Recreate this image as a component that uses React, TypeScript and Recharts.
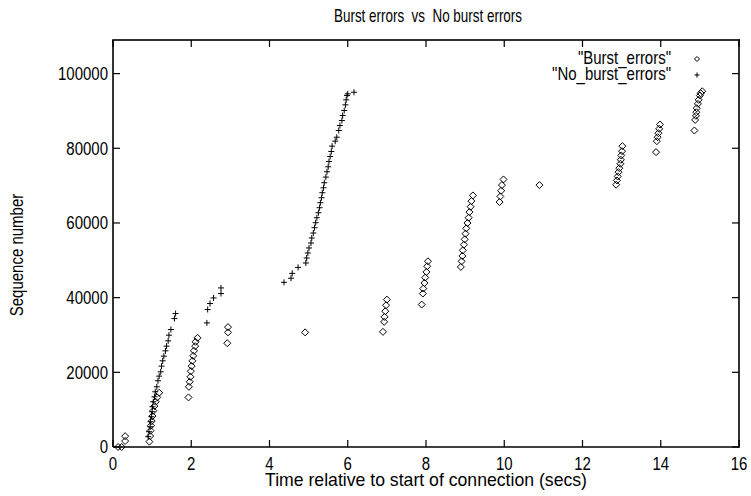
import { ScatterChart, Scatter, XAxis, YAxis } from "recharts";

// [time (secs), sequence number]
const burstErrors: [number, number][] = [
  [0.13, 0], [0.22, 0], [0.31, 1600], [0.31, 2900],
  [0.93, 1430], [0.95, 2940], [0.96, 4370], [0.97, 5700], [0.99, 6950], [1.01, 8290],
  [1.03, 9720], [1.06, 10960], [1.09, 12120], [1.13, 13280], [1.18, 14530],
  [1.93, 13280], [1.94, 16130], [1.96, 17470], [1.98, 18800], [1.99, 20320], [2.01, 21660],
  [2.03, 23080], [2.05, 24420], [2.07, 25760], [2.1, 27010], [2.11, 28160], [2.16, 29230],
  [2.92, 27800], [2.94, 30700], [2.94, 32100],
  [4.91, 30700],
  [6.9, 30840], [6.93, 33510], [6.94, 34850], [6.96, 36360], [6.98, 37970], [7.0, 39480],
  [7.89, 38150], [7.92, 41090], [7.93, 42430], [7.96, 43940], [7.98, 45370], [8.01, 46880],
  [8.03, 48400], [8.05, 49730],
  [8.89, 48220], [8.91, 49730], [8.93, 51160], [8.94, 52670], [8.97, 54180], [8.99, 55610],
  [9.01, 57130], [9.03, 58560], [9.06, 59980], [9.09, 61410], [9.11, 62920], [9.14, 64350],
  [9.16, 65860], [9.2, 67380],
  [9.88, 65600], [9.9, 67110], [9.92, 68630], [9.94, 70140], [9.98, 71660],
  [10.9, 70140],
  [12.86, 70240], [12.88, 71390], [12.9, 72460], [12.92, 73610], [12.94, 74680], [12.97, 75850],
  [12.98, 76920], [12.99, 78080], [13.01, 79220], [13.02, 80570],
  [13.88, 78970], [13.9, 81900], [13.92, 82970], [13.94, 84040], [13.96, 85200], [13.98, 86360],
  [14.86, 84760], [14.88, 87600], [14.9, 88690], [14.91, 89660], [14.92, 90730], [14.95, 91900],
  [14.97, 92970], [15.0, 94120], [15.02, 94740], [15.06, 95270],
];

const noBurstErrors: [number, number][] = [
  [0.9, 2760], [0.92, 4100], [0.95, 5430], [0.96, 6770], [0.98, 8110], [1.0, 9450],
  [1.01, 10780], [1.03, 12120], [1.06, 13460], [1.08, 14790], [1.12, 16130], [1.15, 17740],
  [1.18, 18980], [1.22, 20140], [1.24, 21660], [1.27, 23080], [1.3, 24330], [1.34, 25760],
  [1.37, 27010], [1.41, 28430], [1.43, 29950], [1.48, 31460], [1.57, 34400], [1.6, 35740],
  [2.4, 33240], [2.42, 36820], [2.48, 38420], [2.57, 39920], [2.76, 41100], [2.76, 42600],
  [4.37, 44100], [4.55, 45200], [4.58, 46500], [4.73, 48100],
  [4.93, 49280], [4.95, 50620], [4.98, 51960], [5.01, 53300], [5.06, 54630], [5.08, 55970],
  [5.12, 57300], [5.15, 58730], [5.18, 60070], [5.21, 61410], [5.25, 62740], [5.28, 64080],
  [5.3, 65420], [5.33, 66760], [5.35, 68100], [5.38, 69430], [5.4, 70770], [5.44, 72280],
  [5.47, 73710], [5.5, 75050], [5.52, 76470], [5.55, 77810], [5.58, 79140], [5.6, 80570],
  [5.68, 81900], [5.72, 82970], [5.77, 84760], [5.8, 86100], [5.85, 87430], [5.87, 88770],
  [5.91, 90110], [5.94, 91630], [5.96, 92970], [5.98, 94120], [6.0, 94570], [6.16, 95010],
];

const xTicks = [0, 2, 4, 6, 8, 10, 12, 14, 16];
const yTicks = [0, 20000, 40000, 60000, 80000, 100000];
const xDomain: [number, number] = [0, 16];
const yDomain: [number, number] = [0, 109000];

const toPoints = (rows: [number, number][]) => rows.map(([t, seq]) => ({ t, seq }));

const W = 751;
const H = 496;
const MARGIN = { top: 40, right: 12, bottom: 0, left: 0 };
const Y_AXIS_W = 113;
const X_AXIS_H = 49;
const PLOT_X = MARGIN.left + Y_AXIS_W;
const PLOT_Y = MARGIN.top;
const PLOT_W = W - MARGIN.left - MARGIN.right - Y_AXIS_W;
const PLOT_H = H - MARGIN.top - MARGIN.bottom - X_AXIS_H;

const FONT = "'Liberation Sans', Arial, Helvetica, sans-serif";
const FS = 15;
const STRETCH = 1.2; // postscript fonts come out a bit tall
const TICK = 7;
const FRAME_W = 1.6;

function Txt({
  x,
  y,
  anchor = "middle",
  rotate = 0,
  length,
  children,
}: {
  x: number;
  y: number;
  anchor?: "start" | "middle" | "end";
  rotate?: number;
  length?: number;
  children: string | number;
}) {
  return (
    <text
      transform={`translate(${x} ${y}) rotate(${rotate}) scale(1 ${STRETCH})`}
      textAnchor={anchor}
      fontSize={FS}
      fontFamily={FONT}
      fill="#000"
      textLength={length}
      lengthAdjust={length ? "spacingAndGlyphs" : undefined}
      style={{ whiteSpace: "pre" }}
    >
      {children}
    </text>
  );
}

function DiamondShape({ cx, cy, r = 3.5 }: { cx?: number; cy?: number; r?: number }) {
  if (cx == null || cy == null) return null;
  return (
    <path
      d={`M${cx},${cy - r}L${cx + r},${cy}L${cx},${cy + r}L${cx - r},${cy}Z`}
      fill="none"
      stroke="#000"
      strokeWidth={1}
    />
  );
}

function PlusShape({ cx, cy, r = 3 }: { cx?: number; cy?: number; r?: number }) {
  if (cx == null || cy == null) return null;
  return (
    <path
      d={`M${cx - r},${cy}H${cx + r}M${cx},${cy - r}V${cy + r}`}
      fill="none"
      stroke="#000"
      strokeWidth={1}
    />
  );
}

// gnuplot style: ticks point inward and are mirrored on the opposite edge
function BottomTick({ x, y, payload }: any) {
  const top = y - PLOT_H;
  return (
    <g>
      <rect x={x - 0.6} y={y - TICK} width={1.2} height={TICK} fill="#000" />
      <rect x={x - 0.6} y={top} width={1.2} height={TICK} fill="#000" />
      <Txt x={x} y={y + 23}>{payload.value}</Txt>
    </g>
  );
}

function LeftTick({ x, y, payload }: any) {
  const right = x + PLOT_W;
  return (
    <g>
      <rect x={x} y={y - 0.6} width={TICK} height={1.2} fill="#000" />
      <rect x={right - TICK} y={y - 0.6} width={TICK} height={1.2} fill="#000" />
      <Txt x={x - 5} y={y + FS * 0.36 * STRETCH} anchor="end">{payload.value}</Txt>
    </g>
  );
}

export default function App() {
  const axisLine = { stroke: "#000", strokeWidth: FRAME_W };
  const half = FRAME_W / 2;
  return (
    <div style={{ position: "absolute", left: 0, top: 0, width: W, height: H, background: "#fff" }}>
      <ScatterChart width={W} height={H} margin={MARGIN}>
        <XAxis
          dataKey="t"
          type="number"
          domain={xDomain}
          ticks={xTicks}
          height={X_AXIS_H}
          tickSize={0}
          tickMargin={0}
          tickLine={false}
          axisLine={axisLine}
          tick={<BottomTick />}
        />
        <YAxis
          dataKey="seq"
          type="number"
          domain={yDomain}
          ticks={yTicks}
          width={Y_AXIS_W}
          tickSize={0}
          tickMargin={0}
          tickLine={false}
          axisLine={axisLine}
          tick={<LeftTick />}
        />
        <Scatter
          name='"Burst_errors"'
          data={toPoints(burstErrors)}
          shape={<DiamondShape />}
          isAnimationActive={false}
        />
        <Scatter
          name='"No_burst_errors"'
          data={toPoints(noBurstErrors)}
          shape={<PlusShape />}
          isAnimationActive={false}
        />
        {/* top and right edges of the plot border */}
        <rect x={PLOT_X - half} y={PLOT_Y - half} width={PLOT_W + FRAME_W} height={FRAME_W} fill="#000" />
        <rect x={PLOT_X + PLOT_W - half} y={PLOT_Y - half} width={FRAME_W} height={PLOT_H + FRAME_W} fill="#000" />
        <Txt x={428} y={22} length={188}>{"Burst errors  vs  No burst errors"}</Txt>
        <Txt x={426} y={486} length={322}>Time relative to start of connection (secs)</Txt>
        <Txt x={23} y={255} rotate={-90}>Sequence number</Txt>
        <Txt x={671} y={64} anchor="end">"Burst_errors"</Txt>
        <DiamondShape cx={697} cy={59} r={2.5} />
        <Txt x={671} y={80} anchor="end">"No_burst_errors"</Txt>
        <PlusShape cx={697} cy={75} r={2.5} />
      </ScatterChart>
    </div>
  );
}
